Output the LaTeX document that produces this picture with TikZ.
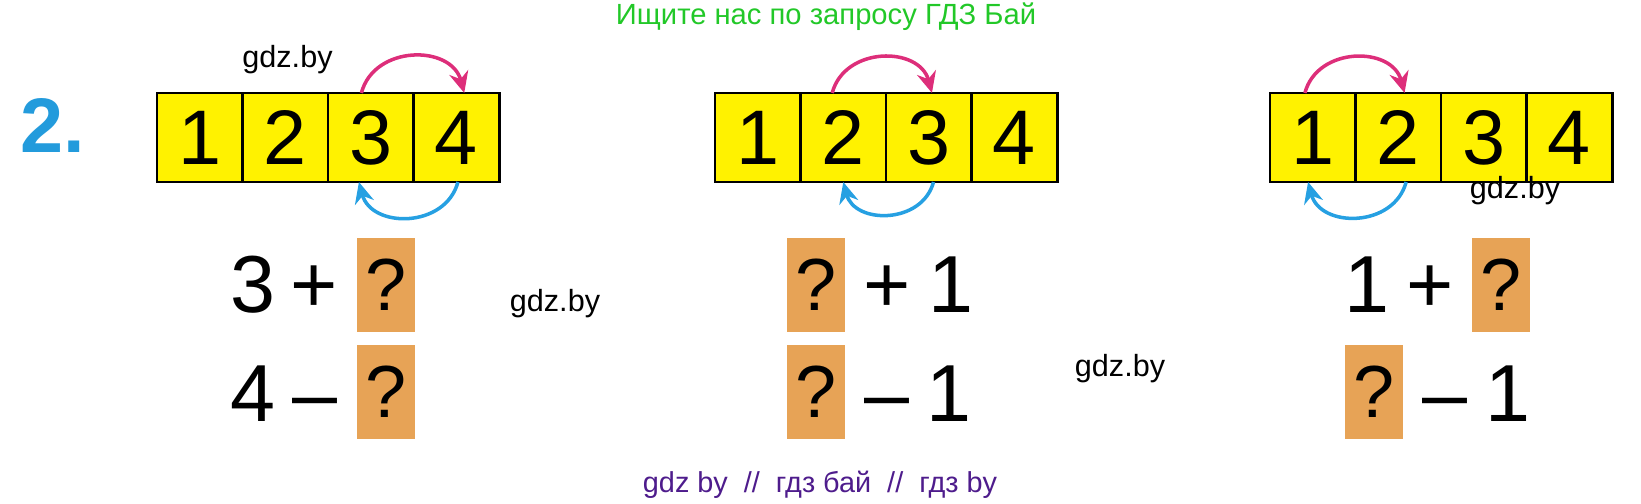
\documentclass[tikz,border=0pt]{standalone}
\usepackage{fontspec}
\setmainfont{Liberation Sans}
\usetikzlibrary{positioning,arrows.meta}

\definecolor{cellyellow}{RGB}{255,242,0}
\definecolor{boxorange}{RGB}{231,163,86}
\definecolor{arcpink}{RGB}{221,46,122}
\definecolor{arcblue}{RGB}{38,160,226}
\definecolor{numblue}{RGB}{35,155,220}
\definecolor{wmgreen}{RGB}{34,200,40}
\definecolor{wmpurple}{RGB}{78,28,140}

\tikzset{
  cell/.style={draw, line width=0.8pt, fill=cellyellow, minimum width=0.855cm,
    minimum height=0.89cm, inner sep=0pt, outer sep=0pt,
    font=\fontsize{22}{26}\selectfont},
  qbox/.style={fill=boxorange, minimum width=0.58cm, minimum height=0.94cm,
    inner sep=0pt, font=\fontsize{21}{25}\selectfont},
  term/.style={anchor=base, inner sep=0pt, font=\fontsize{23}{27}\selectfont},
  wm/.style={anchor=base, inner sep=0pt, font=\fontsize{8.7}{10}\selectfont},
  fwdarc/.style={arcpink, line width=1pt, -{Stealth[length=6pt,width=5.5pt]},
    bend left=75, looseness=1.25},
  backarc/.style={arcblue, line width=1pt, -{Stealth[length=6pt,width=5.5pt]},
    bend left=75, looseness=1.25}
}

\begin{document}
\begin{tikzpicture}[x=0.01cm,y=-0.01cm,node distance=0.855cm,on grid]
  \useasboundingbox (0,0) rectangle (1641,504);
  % Header and task number
  \node[anchor=base, inner sep=0pt, text=wmgreen, font=\fontsize{8.3}{10}\selectfont]
    (head) at (826,25) {Ищите нас по запросу ГДЗ Бай};
  \node[anchor=base, inner sep=0pt, text=numblue, font=\bfseries\fontsize{22}{26}\selectfont]
    (task) at (53,153) {2.};
  % First strip
  \node[cell] (a1) at (199.75,137.5) {1};
  \node[cell] (a2) [right=of a1] {2};
  \node[cell] (a3) [right=of a2] {3};
  \node[cell] (a4) [right=of a3] {4};
  % Second strip
  \node[cell] (b1) at (757.75,137.5) {1};
  \node[cell] (b2) [right=of b1] {2};
  \node[cell] (b3) [right=of b2] {3};
  \node[cell] (b4) [right=of b3] {4};
  % Third strip
  \node[cell] (c1) at (1312.75,137.5) {1};
  \node[cell] (c2) [right=of c1] {2};
  \node[cell] (c3) [right=of c2] {3};
  \node[cell] (c4) [right=of c3] {4};
  % Jumps
  \path
    (a3.102) edge[fwdarc] (a4.80)
    (a4.-88) edge[backarc] (a3.-105)
    (b2.104) edge[fwdarc] (b3.86)
    (b3.-84) edge[backarc] (b2.-90)
    (c1.100) edge[fwdarc] (c2.82)
    (c2.-80) edge[backarc] (c1.-96);
  % Left examples
  \node[term] (l1num) at (252.5,313) {3};
  \node[term] (l1op) at (314.5,313) {+};
  \node[qbox] (l1box) at (386,285) {?};
  \node[term] (l2num) at (252.5,422) {4};
  \node[term] (l2op) at (315,422) {--};
  \node[qbox] (l2box) at (386,392) {?};
  % Middle examples
  \node[qbox] (m1box) at (816,285) {?};
  \node[term] (m1op) at (887.5,313) {+};
  \node[term] (m1num) at (951,313) {1};
  \node[qbox] (m2box) at (816,392) {?};
  \node[term] (m2op) at (886.5,422) {--};
  \node[term] (m2num) at (949,422) {1};
  % Right examples
  \node[term] (r1num) at (1367,313) {1};
  \node[term] (r1op) at (1430,313) {+};
  \node[qbox] (r1box) at (1501,285) {?};
  \node[qbox] (r2box) at (1374,392) {?};
  \node[term] (r2op) at (1444.5,422) {--};
  \node[term] (r2num) at (1508,422) {1};
  % Watermarks
  \node[wm] (wm1) at (287.5,68) {gdz.by};
  \node[wm] (wm2) at (555,312) {gdz.by};
  \node[wm] (wm3) at (1120,377) {gdz.by};
  \node[wm] (wm4) at (1515,199) {gdz.by};
  \node[anchor=base, inner sep=0pt, text=wmpurple, font=\fontsize{8.2}{10}\selectfont]
    (foot) at (820,493) {gdz by~~//~~гдз бай~~//~~гдз by};
\end{tikzpicture}
\end{document}
